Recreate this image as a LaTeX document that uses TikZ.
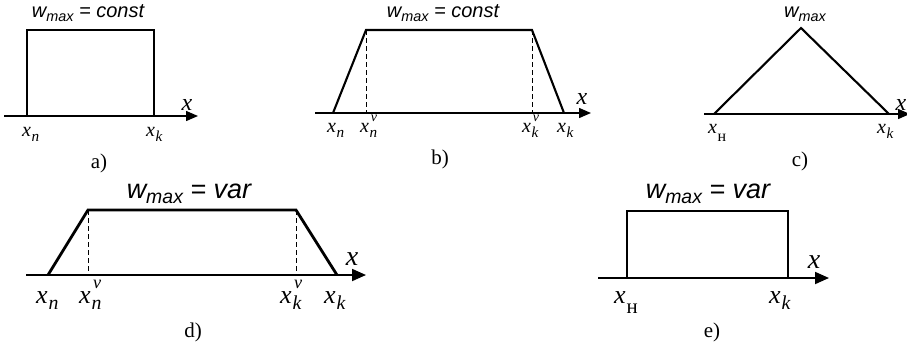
\documentclass[tikz,border=0pt]{standalone}
\usepackage{graphicx}
\usepackage{fontspec}
\setmainfont{Liberation Serif}
\newfontfamily\tsans{Liberation Sans}
\usetikzlibrary{arrows.meta}
\tikzset{
  curve/.style={line width=2.1pt, line join=miter},
  curveB/.style={line width=2.8pt, line join=miter},
  axis/.style={line width=1.4pt, -{Triangle[length=12pt,width=10pt]}},
  axisB/.style={line width=1.8pt, -{Triangle[length=14pt,width=12pt]}},
  guide/.style={dashed, line width=0.9pt, dash pattern=on 5pt off 3pt},
  lab/.style={font=\fontsize{20}{20}\selectfont\itshape, inner sep=0pt, anchor=base west},
  labB/.style={font=\fontsize{26}{26}\selectfont\itshape, inner sep=0pt, anchor=base west},
  axl/.style={font=\fontsize{24}{24}\selectfont\itshape, inner sep=0pt, anchor=base},
  axlB/.style={font=\fontsize{28}{28}\selectfont\itshape, inner sep=0pt, anchor=base},
  captxt/.style={font=\fontsize{21}{21}\selectfont, inner sep=0pt, anchor=base},
  ttl/.style={font=\fontsize{20}{20}\selectfont\tsans\itshape, inner sep=0pt, anchor=base},
  ttlB/.style={font=\fontsize{27}{27}\selectfont\tsans\itshape, inner sep=0pt, anchor=base},
}
\newcommand{\wmax}{w\raisebox{-0.22em}{\scalebox{0.72}{max}}}
\newcommand{\Xsub}[1]{x\kern0.03em\raisebox{-0.25em}{\scalebox{0.76}{#1}}}
\newcommand{\Xsubsup}[2]{x\kern0.03em\rlap{\raisebox{-0.25em}{\scalebox{0.76}{#1}}}\kern0.06em\raisebox{0.55em}{\scalebox{0.7}{#2}}}
\newcommand{\Xcyr}{x\kern0.03em\raisebox{-0.42em}{\scalebox{0.8}{\upshape н}}}
\begin{document}
\begin{tikzpicture}[x=1pt,y=-1pt]
\useasboundingbox (0,0) rectangle (907,349);
% ---------- a)
\coordinate (a0) at (4,116);
\coordinate (a1) at (198,116);
\coordinate (aL) at (27,116);
\coordinate (aR) at (154,116);
\coordinate (aTL) at (27,30);
\coordinate (aTR) at (154,30);
\draw[axis] (a0) -- (a1);
\draw[curve] (aL) -- (aTL) -- (aTR) -- (aR) -- cycle;
\node[ttl] (at) at (88,17) {\wmax{} = const};
\node[axl] (ax) at (187,110) {x};
\node[lab] (axn) at (22,136) {\Xsub{n}};
\node[lab] (axk) at (146,136) {\Xsub{k}};
\node[captxt] (acap) at (99,168) {a)};
% ---------- b)
\coordinate (b0) at (315,113);
\coordinate (b1) at (591,113);
\coordinate (bL) at (333,113);
\coordinate (bTL) at (366,30);
\coordinate (bTR) at (532,30);
\coordinate (bR) at (564,113);
\coordinate (bDL) at (366,113);
\coordinate (bDR) at (532,113);
\draw[axis] (b0) -- (b1);
\draw[curve] (bL) -- (bTL) -- (bTR) -- (bR);
\draw[guide] (bTL) -- (bDL);
\draw[guide] (bTR) -- (bDR);
\node[ttl] (bt) at (443,17) {\wmax{} = const};
\node[axl] (bx) at (582,104) {x};
\node[lab] (bxn) at (327,132) {\Xsub{n}};
\node[lab] (bxnv) at (360,132) {\Xsubsup{n}{v}};
\node[lab] (bxkv) at (522,132) {\Xsubsup{k}{v}};
\node[lab] (bxk) at (557,132) {\Xsub{k}};
\node[captxt] (bcap) at (440,164) {b)};
% ---------- c)
\coordinate (c0) at (704,114);
\coordinate (c1) at (910,114);
\coordinate (cL) at (714,114);
\coordinate (cA) at (801,28);
\coordinate (cR) at (889,114);
\draw[axis] (c0) -- (c1);
\draw[curve] (cL) -- (cA) -- (cR);
\node[ttl] (ct) at (805,17) {\wmax};
\node[axl] (cx) at (901,110) {x};
\node[lab] (cxn) at (708,133) {\Xcyr};
\node[lab] (cxk) at (877,133) {\Xsub{k}};
\node[captxt] (ccap) at (800,166) {c)};
% ---------- d)
\coordinate (d0) at (26,275);
\coordinate (d1) at (366,275);
\coordinate (dL) at (48,275);
\coordinate (dTL) at (88,210);
\coordinate (dTR) at (296,210);
\coordinate (dR) at (337,275);
\coordinate (dDL) at (88,275);
\coordinate (dDR) at (296,275);
\draw[axisB] (d0) -- (d1);
\draw[curveB] (dL) -- (dTL) -- (dTR) -- (dR);
\draw[guide] (dTL) -- (dDL);
\draw[guide] (dTR) -- (dDR);
\node[ttlB] (dt) at (189,198) {\wmax{} = var};
\node[axlB] (dx) at (352,265) {x};
\node[labB] (dxn) at (36,303) {\Xsub{n}};
\node[labB] (dxnv) at (79,303) {\Xsubsup{n}{v}};
\node[labB] (dxkv) at (280,303) {\Xsubsup{k}{v}};
\node[labB] (dxk) at (324,303) {\Xsub{k}};
\node[captxt] (dcap) at (193,337) {d)};
% ---------- e)
\coordinate (e0) at (598,278);
\coordinate (e1) at (829,278);
\coordinate (eL) at (627,278);
\coordinate (eTL) at (627,211);
\coordinate (eTR) at (788,211);
\coordinate (eR) at (788,278);
\draw[axisB] (e0) -- (e1);
\draw[curveB] (eL) -- (eTL) -- (eTR) -- (eR) -- cycle;
\node[ttlB] (et) at (708,198) {\wmax{} = var};
\node[axlB] (ex) at (814,268) {x};
\node[labB] (exn) at (614,303) {\Xcyr};
\node[labB] (exk) at (769,303) {\Xsub{k}};
\node[captxt] (ecap) at (712,337) {e)};
\end{tikzpicture}
\end{document}
